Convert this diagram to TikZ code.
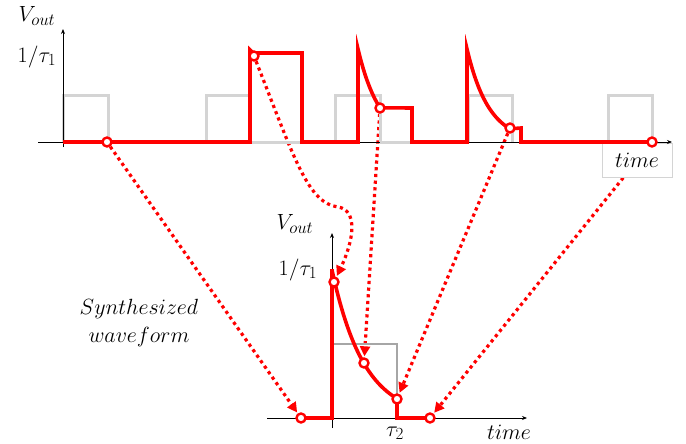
\RequirePackage{fix-cm}
\documentclass[tikz,border=0pt]{standalone}
\usetikzlibrary{arrows.meta}
\DeclareMathSizes{22}{22}{17}{13}
\pgfdeclarelayer{back}
\pgfdeclarelayer{mid}
\pgfsetlayers{back,mid,main}
\definecolor{lightpulse}{HTML}{D4D4D4}
\definecolor{darkpulse}{HTML}{A6A6A6}
\begin{document}
\begin{tikzpicture}[x=1pt,y=-1pt,
  font=\fontsize{22}{28}\selectfont,
  wave/.style={red, line width=3.6pt},
  pulse/.style={draw=lightpulse, line width=3pt},
  dotmark/.style={circle, draw=red, fill=white, line width=2.4pt, minimum size=9pt, inner sep=0pt},
  linkarrow/.style={red, line width=3.2pt, dash pattern=on 3.2pt off 3.5pt, -{Triangle[length=10pt,width=10pt]}, shorten >=1pt},
  axisline/.style={black, line width=0.9pt, -{Stealth[length=5pt,width=4pt]}},
  lbl/.style={inner sep=0pt}]
\useasboundingbox (0,0) rectangle (686,444);

% marker circles
\node[dotmark] (p1) at (107,142) {};
\node[dotmark] (p2) at (254,56) {};
\node[dotmark] (p3) at (380,108) {};
\node[dotmark] (p4) at (510,128) {};
\node[dotmark] (p5) at (652,142) {};
\node[dotmark] (q1) at (301,418) {};
\node[dotmark] (q2) at (334,282) {};
\node[dotmark] (q3) at (364,363) {};
\node[dotmark] (q4) at (397,399) {};
\node[dotmark] (q5) at (430,418) {};

\begin{pgfonlayer}{back}
\draw[linkarrow] (p1) -- (q1);
\draw[linkarrow] (p2) .. controls (295,160) and (308,203) .. (338,207) .. controls (358,210) and (354,240) .. (q2);
\draw[linkarrow] (p3) -- (q3);
\draw[linkarrow] (p4) -- (q4);
\draw[linkarrow] (p5) -- (q5);
\node[draw=lightpulse, line width=0.6pt, fill=white, minimum width=70pt, minimum height=34pt] (tbox) at (637,160) {$time$};
\end{pgfonlayer}

\begin{pgfonlayer}{mid}
% top gray pulses
\draw[pulse] (63,142) -- (63,96) -- (108,96) -- (108,142);
\draw[pulse] (206,142) -- (206,96) -- (250,96) -- (250,142);
\draw[pulse] (335,142) -- (335,96) -- (380,96) -- (380,142);
\draw[pulse] (468,142) -- (468,96) -- (512,96) -- (512,142);
\draw[pulse] (608,142) -- (608,96) -- (652,96) -- (652,142);
% top axes
\draw[axisline] (38,142) -- (672,142);
\draw[axisline] (63,147) -- (63,29);
\draw[pulse] (250,142) -- (302,142);
\draw[pulse] (380,142) -- (412,142);
% top waveform
\draw[wave] (63,142) -- (250,142) -- (250,50) -- (253,53) -- (302,53) -- (302,142) -- (358,142) -- (358,49)
  -- plot[domain=358:380, samples=30] (\x,{142-93*exp(-(\x-358)/22)})
  -- (412,108) -- (412,142) -- (467,142) -- (467,49)
  -- plot[domain=467:510, samples=40] (\x,{142-93*exp(-(\x-467)/22)})
  -- (521,128) -- (521,142) -- (652,142);
\node[lbl] (v1) at (37,16) {$V_{out}$};
\node[lbl] (t1) at (37,57) {$1/\tau_1$};

% bottom plot
\draw[darkpulse, line width=2.5pt] (332,344) -- (397,344) -- (397,399);
\draw[axisline] (267,418) -- (527,418);
\draw[axisline] (332,428) -- (332,233);
\draw[wave] (301,418) -- (332,418) -- (332,269)
  -- plot[domain=332:397, samples=50] (\x,{418-148*exp(-(\x-332)/32)})
  -- (397,418) -- (430,418);
\node[lbl] (v2) at (295,224) {$V_{out}$};
\node[lbl] (t2) at (298,270) {$1/\tau_1$};
\node[lbl] (tau2) at (395,433) {$\tau_2$};
\node[lbl] (time2) at (509,432) {$time$};
\node[lbl, align=center] (syn) at (139,323) {$Synthesized$\\$waveform$};
\end{pgfonlayer}
\end{tikzpicture}
\end{document}
